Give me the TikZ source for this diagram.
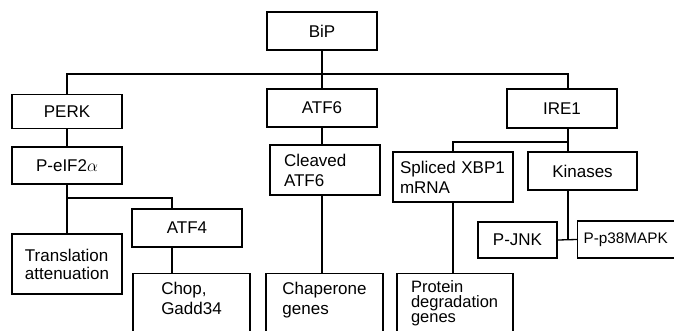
\documentclass[tikz,border=0pt]{standalone}
\usepackage{fontspec}
\setmainfont{Liberation Sans}
\usetikzlibrary{positioning, calc}

\begin{document}
\begin{tikzpicture}[x=1pt, y=-1pt, line width=1.3pt,
        font=\fontsize{17}{20}\selectfont,
        box/.style={draw, minimum width=110pt, minimum height=38pt, inner sep=4pt, align=left},
        lbox/.style={box, inner xsep=#1, text width=110pt-2*#1},
        openbox/.style={draw, anchor=north, inner ysep=9pt, text depth=60pt, align=left}]
                    \clip (0,0) rectangle (674,330);
                    \node[box] (bip) at (322, 31) {BiP};
                    \node[box, minimum height=34pt] (perk) at (67, 111.5) {PERK};
                    \node[box] (atf6) at (322, 108) {ATF6};
                    \node[box, minimum height=39pt] (ire1) at (562, 108.5) {IRE1};
                    \node[box, minimum height=37pt] (peif) at (67, 165.5) {P-eIF2$\alpha$};
                    \node[lbox=14pt, minimum height=50pt] (cleaved) at (325, 170) {Cleaved\\ATF6};
                    \node[lbox=7pt, minimum width=120pt, text width=106pt, minimum height=50pt] (spliced) at (453, 177) {Spliced XBP1\\mRNA};
                    \node[box, minimum width=109pt] (kin) at (582.5, 171) {Kinases};
                    \node[box] (atf4) at (187, 228) {ATF4};
                    \node[box, minimum height=60pt] (trans) at (67, 264) {Translation\\[-2pt]attenuation};
                    \node[box, minimum width=79pt, minimum height=36pt] (jnk) at (517.5, 240) {P-JNK};
                    \node[box, anchor=west, inner xsep=6pt, text width=110pt, minimum height=37pt,
                        font=\fontsize{15.3}{18}\selectfont] (p38) at (577, 239.5) {P-p38MAPK};
                    \node[openbox, minimum width=117pt] (chop) at (191.5, 273) {Chop,\\Gadd34};
                    \node[openbox, minimum width=117pt] (chap) at (324.5, 273) {Chaperone\\genes};
                    \node[openbox, minimum width=116pt, inner xsep=14pt, text width=88pt, inner ysep=7pt,
                        font=\fontsize{16.5}{20}\selectfont] (prot) at (455, 273) {Protein\\[-5pt]degradation\\[-5pt]genes};

                    % branch points
                    \coordinate (topbus) at (322, 74);
                    \coordinate (iretap) at (568, 142);
                    \coordinate (eiftap) at (172, 198);
                    \coordinate (kintap) at (568, 239.5);

                    \draw (bip) -- (atf6);
                    \draw (perk.north) |- (topbus) -| (ire1.north -| iretap);
                    \draw (ire1.south -| iretap) -- (kin.north -| iretap);
                    \draw (spliced.north) |- (iretap);
                    \draw (perk) -- (peif);
                    \draw (peif) -- (trans);
                    \draw (peif.south |- eiftap) -| (atf4.north -| eiftap);
                    \draw (atf4.south -| eiftap) -- (chop.north -| eiftap);
                    \draw (atf6.south) -- (atf6.south |- cleaved.north);
                    \draw (cleaved.south -| atf6.south) -- (chap.north -| atf6.south);
                    \draw (spliced.south) -- (spliced.south |- prot.north);
                    \draw (kin.south -| kintap) -- (kintap);
                    \draw (jnk.east) -- (p38.west);
                \end{tikzpicture}
\end{document}
